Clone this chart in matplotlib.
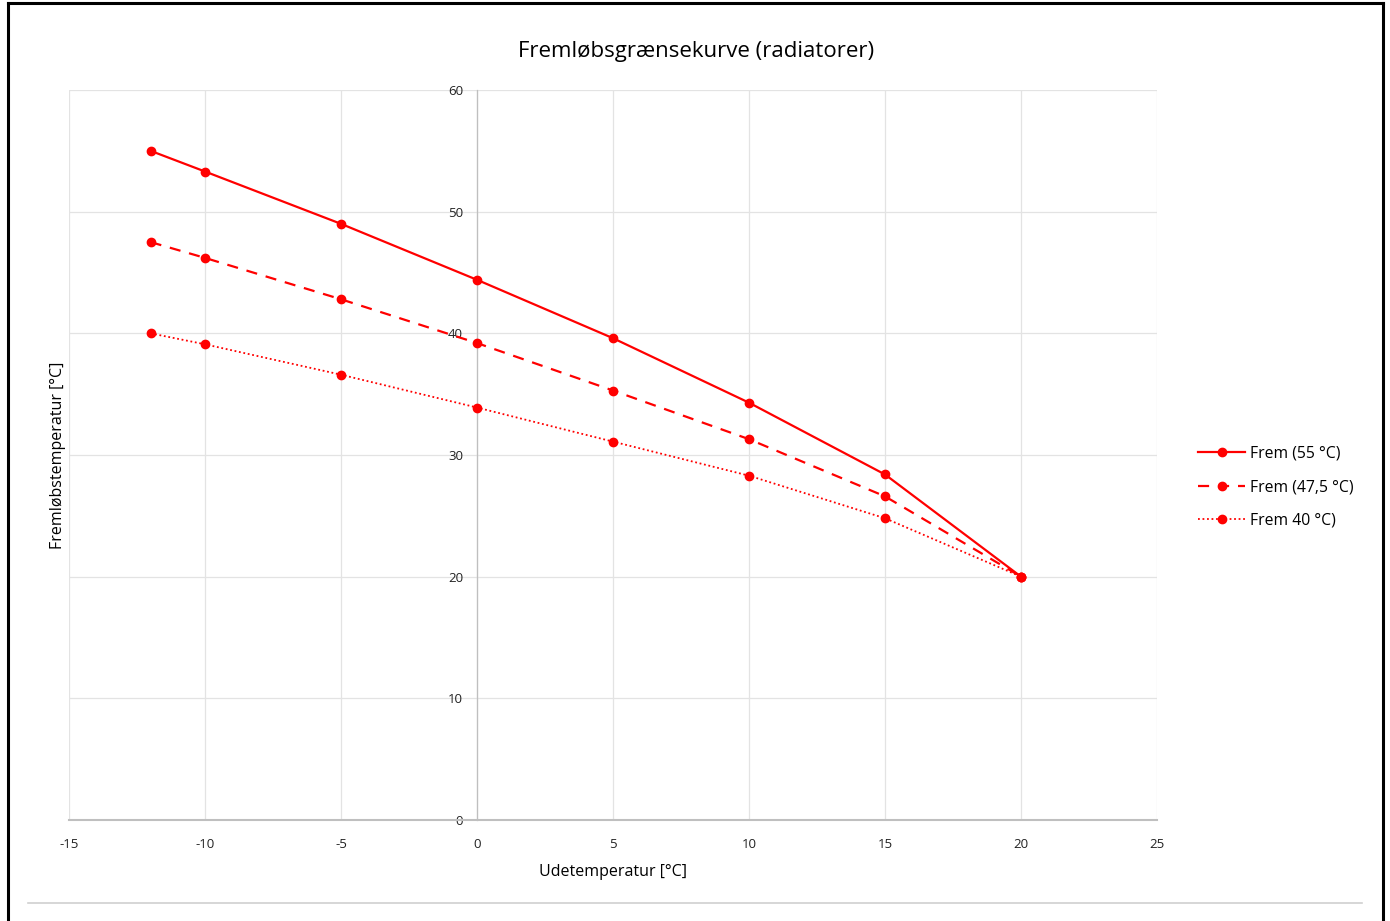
import matplotlib.pyplot as plt
from matplotlib.lines import Line2D

plt.rcParams['font.family'] = ['Open Sans', 'DejaVu Sans']
plt.rcParams['axes.unicode_minus'] = False

# Udetemperatur (x) and three flow-temperature curves
ude_temp = [-12, -10, -5, 0, 5, 10, 15, 20]
frem_55 = [55.0, 53.3, 49.0, 44.4, 39.6, 34.3, 28.4, 20.0]
frem_475 = [47.5, 46.2, 42.8, 39.2, 35.3, 31.3, 26.6, 20.0]
frem_40 = [40.0, 39.1, 36.6, 33.9, 31.1, 28.3, 24.8, 20.0]

series_labels = ["Frem (55 °C)", "Frem (47,5 °C)", "Frem 40 °C)"]
x_ticks = [-15, -10, -5, 0, 5, 10, 15, 20, 25]
y_ticks = [0, 10, 20, 30, 40, 50, 60]

red = "#ff0000"
grid_col = "#e3e3e3"

fig = plt.figure(figsize=(13.9, 9.21), dpi=100)
ax = fig.add_axes([69/1390, 1-820/921, (1157-69)/1390, (820-90)/921])

ax.plot(ude_temp, frem_55, color=red, lw=1.6, ls='-', marker='o', ms=6,
        label=series_labels[0], zorder=3)
ax.plot(ude_temp, frem_475, color=red, lw=1.6, ls=(0, (5, 4)), marker='o', ms=6,
        label=series_labels[1], zorder=3)
ax.plot(ude_temp, frem_40, color=red, lw=1.3, ls=(0, (1, 1.5)), marker='o', ms=6,
        label=series_labels[2], zorder=3)

ax.set_xlim(-15, 25)
ax.set_ylim(0, 60)
ax.set_xticks(x_ticks)
ax.set_yticks(y_ticks)
ax.grid(True, color=grid_col, lw=0.9)
ax.set_axisbelow(True)

for s in ['top', 'right']:
    ax.spines[s].set_visible(False)
ax.spines['left'].set_position(('data', 0))
ax.spines['left'].set_color('#bfbfbf')
ax.spines['left'].set_linewidth(0.9)
ax.spines['bottom'].set_color('#bfbfbf')
ax.spines['bottom'].set_linewidth(1.5)
ax.tick_params(length=0, labelsize=9.5, colors='#222222')
ax.tick_params(axis='x', pad=13)
ax.tick_params(axis='y', pad=10)

ax.set_xlabel("Udetemperatur [°C]", fontsize=11.5, labelpad=9)
fig.text(696/1390, 1-52/921, "Fremløbsgrænsekurve (radiatorer)", ha='center',
         va='center', fontsize=16)
fig.text(58/1390, 1-455/921, "Fremløbstemperatur [°C]", rotation=90,
         ha='center', va='center', fontsize=11.5)

fig.legend(loc='center left', bbox_to_anchor=(1184/1390, 1-487/921),
           frameon=False, fontsize=11.3, handlelength=3.0, handletextpad=0.3,
           labelspacing=1.12)

# outer frame of the screenshot
fig.add_artist(Line2D([8/1390, 8/1390], [0, 1-3/921], color='black', lw=2.2,
                      transform=fig.transFigure))
fig.add_artist(Line2D([1383/1390, 1383/1390], [0, 1-3/921], color='black', lw=2.2,
                      transform=fig.transFigure))
fig.add_artist(Line2D([8/1390, 1383/1390], [1-3/921, 1-3/921], color='black', lw=2.2,
                      transform=fig.transFigure))
fig.add_artist(Line2D([28/1390, 1362/1390], [1-903/921, 1-903/921], color='#d0d0d0',
                      lw=1.2, transform=fig.transFigure))

fig.savefig("out.png", dpi=100)
